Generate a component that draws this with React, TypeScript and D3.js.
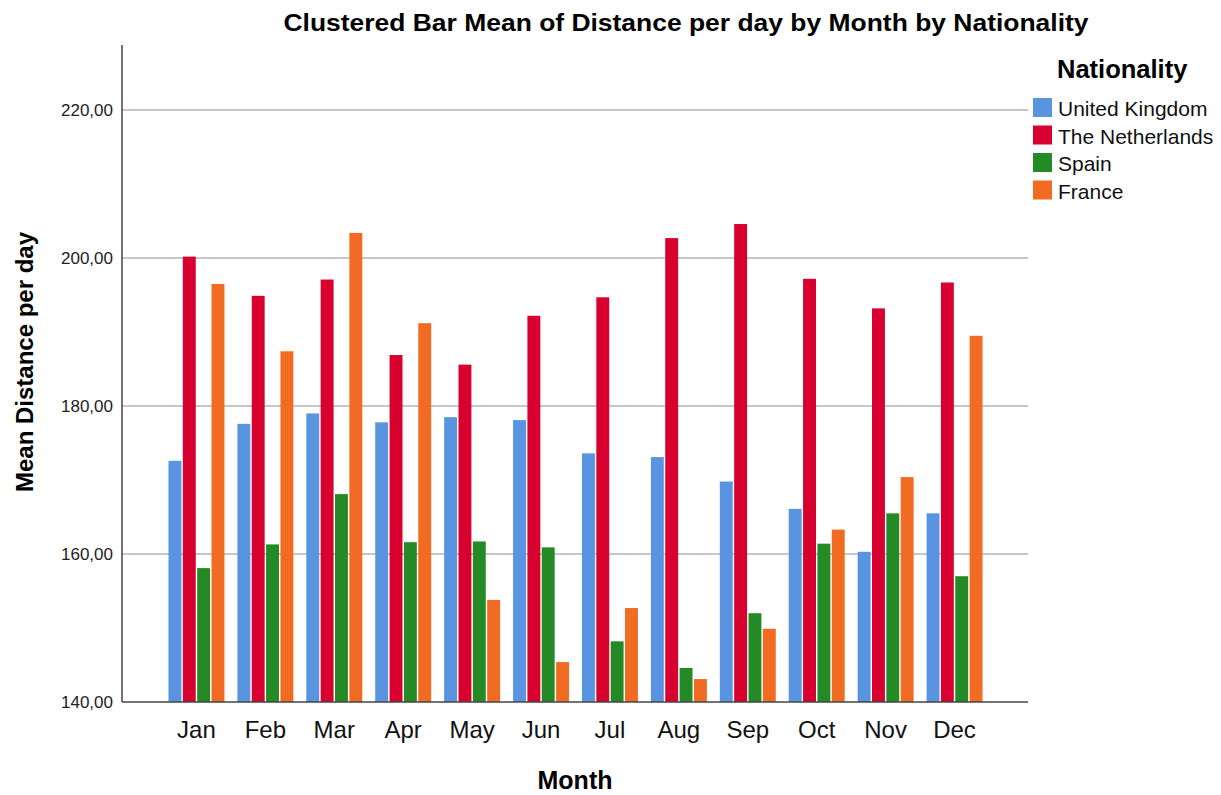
import React from 'react'
import * as d3 from 'd3'

const months = ['Jan', 'Feb', 'Mar', 'Apr', 'May', 'Jun', 'Jul', 'Aug', 'Sep', 'Oct', 'Nov', 'Dec']
const nationalities = ['United Kingdom', 'The Netherlands', 'Spain', 'France']
const colors = ['#5894E0', '#D7002F', '#248A26', '#F26B22']

const unitedKingdom = [172.6, 177.6, 179.0, 177.8, 178.5, 178.1, 173.6, 173.1, 169.8, 166.1, 160.3, 165.5]
const netherlands = [200.2, 194.9, 197.1, 186.9, 185.6, 192.2, 194.7, 202.7, 204.6, 197.2, 193.2, 196.7]
const spain = [158.1, 161.3, 168.1, 161.6, 161.7, 160.9, 148.2, 144.6, 152.0, 161.4, 165.5, 157.0]
const france = [196.5, 187.4, 203.4, 191.2, 153.8, 145.4, 152.7, 143.1, 149.9, 163.3, 170.4, 189.5]

const yTicks = [140, 160, 180, 200, 220]

const series = [unitedKingdom, netherlands, spain, france]

const W = 1221
const H = 795
const left = 122
const right = 1028
const top = 45
const bottom = 702

const font = '"Liberation Sans", Arial, sans-serif'

export default function App() {
  const y = d3.scaleLinear().domain([140, 228.8]).range([bottom, top])
  const x0 = d3.scaleBand().domain(months).range([left + 40, right - 39]).paddingInner(0.188).paddingOuter(0.094)
  const x1 = d3.scaleBand().domain(nationalities).range([0, x0.bandwidth()]).paddingInner(0.1)
  const fmt = (v: number) => d3.format('.2f')(v).replace('.', ',')

  return (
    <svg width={W} height={H} style={{ position: 'absolute', left: 0, top: 0, background: '#fff' }} fontFamily={font}>
      <text x={686} y={31} textAnchor="middle" fontSize={23} fontWeight="bold" fill="#000"
        textLength={805} lengthAdjust="spacingAndGlyphs">
        Clustered Bar Mean of Distance per day by Month by Nationality
      </text>

      {yTicks.filter(t => t > 140).map(t => (
        <line key={t} x1={left} x2={right} y1={y(t)} y2={y(t)} stroke="#b4b4b4" strokeWidth={1.5} />
      ))}

      {months.map((m, i) => (
        <g key={m} transform={`translate(${x0(m)},0)`}>
          {series.map((s, j) => (
            <rect
              key={nationalities[j]}
              x={x1(nationalities[j])}
              y={y(s[i])}
              width={x1.bandwidth()}
              height={y(140) - y(s[i])}
              fill={colors[j]}
            />
          ))}
        </g>
      ))}

      <line x1={left} x2={left} y1={top} y2={bottom} stroke="#444" strokeWidth={1.5} />
      <line x1={left} x2={right} y1={bottom} y2={bottom} stroke="#444" strokeWidth={1.5} />

      {yTicks.map(t => (
        <text key={t} x={113} y={y(t)} dy="0.35em" textAnchor="end" fontSize={17} fill="#222">
          {fmt(t)}
        </text>
      ))}

      {months.map(m => (
        <text key={m} x={(x0(m) as number) + x0.bandwidth() / 2} y={738} textAnchor="middle" fontSize={24} fill="#111">
          {m}
        </text>
      ))}

      <text x={(left + right) / 2} y={789} textAnchor="middle" fontSize={25} fontWeight="bold" fill="#000">
        Month
      </text>
      <text
        transform={`translate(33,362) rotate(-90)`}
        textAnchor="middle"
        fontSize={24}
        fontWeight="bold"
        fill="#000"
      >
        Mean Distance per day
      </text>

      <text x={1057} y={78} fontSize={25.5} fontWeight="bold" fill="#000">Nationality</text>
      {nationalities.map((n, j) => (
        <g key={n} transform={`translate(1033,${98 + j * 27.5})`}>
          <rect width={19} height={19} fill={colors[j]} />
          <text x={25} y={18} fontSize={21} fill="#111">{n}</text>
        </g>
      ))}
    </svg>
  )
}
